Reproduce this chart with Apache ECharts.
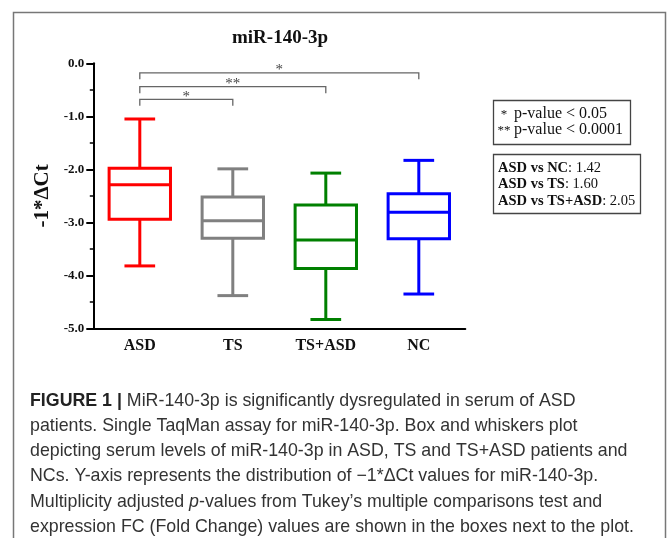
<!DOCTYPE html>
<html>
<head>
<meta charset="utf-8">
<script src="https://cdn.jsdelivr.net/npm/echarts@6/dist/echarts.min.js"></script>
<style>
  html, body { margin: 0; padding: 0; background: #fff; }
  #main { width: 669px; height: 538px; }
</style>
</head>
<body>
<div id="main"></div>
<script>
// 分组与箱线图数值 (-1*ΔCt)
const groups = ['ASD', 'TS', 'TS+ASD', 'NC'];
const whiskerMax = [-1.05, -1.99, -2.07, -1.83];
const q3 = [-1.98, -2.52, -2.67, -2.46];
const median = [-2.29, -2.97, -3.33, -2.81];
const q1 = [-2.94, -3.30, -3.87, -3.31];
const whiskerMin = [-3.82, -4.38, -4.83, -4.35];
const boxColors = ['#ff0000', '#808080', '#008000', '#0000ff'];

// 显著性标记 (ASD vs ...)
const compareFrom = [0, 0, 0];
const compareTo = [3, 2, 1];
const compareLevel = [-0.18, -0.44, -0.68];
const compareStars = ['*', '**', '*'];

// 右侧说明框
const pStars = ['*', '**'];
const pText = ['p-value < 0.05', 'p-value < 0.0001'];
const fcNames = ['ASD vs NC', 'ASD vs TS', 'ASD vs TS+ASD'];
const fcValues = ['1.42', '1.60', '2.05'];

// 图注
const captionLines = [
  '{b|FIGURE 1 |} MiR-140-3p is significantly dysregulated in serum of ASD',
  'patients. Single TaqMan assay for miR-140-3p. Box and whiskers plot',
  'depicting serum levels of miR-140-3p in ASD, TS and TS+ASD patients and',
  'NCs. Y-axis represents the distribution of \u22121*\u0394Ct values for miR-140-3p.',
  'Multiplicity adjusted {i|p}-values from Tukey\u2019s multiple comparisons test and',
  'expression FC (Fold Change) values are shown in the boxes next to the plot.'
];

const serif = '"Liberation Serif", "Times New Roman", serif';
const sans = '"Liberation Sans", Arial, sans-serif';

const boxData = groups.map((g, i) => [i, whiskerMin[i], q1[i], median[i], q3[i], whiskerMax[i]]);
const bracketData = compareFrom.map((f, i) => [f, compareTo[i], compareLevel[i], i]);

const renderBox = (params, api) => {
  const i = api.value(0);
  const x = api.coord([i, 0])[0];
  const w = api.size([1, 0])[0] * 0.66;
  const y = (k) => api.coord([i, api.value(k)])[1];
  const yMin = y(1), yQ1 = y(2), yMed = y(3), yQ3 = y(4), yMax = y(5);
  const style = { stroke: boxColors[i], lineWidth: 3, fill: null };
  const line = (x1, y1, x2, y2) => ({ type: 'line', shape: { x1, y1, x2, y2 }, style });
  return {
    type: 'group',
    children: [
      { type: 'rect', shape: { x: x - w / 2, y: yQ3, width: w, height: yQ1 - yQ3 }, style },
      line(x - w / 2, yMed, x + w / 2, yMed),
      line(x, yQ3, x, yMax),
      line(x, yQ1, x, yMin),
      line(x - w / 4, yMax, x + w / 4, yMax),
      line(x - w / 4, yMin, x + w / 4, yMin)
    ]
  };
};

const renderBracket = (params, api) => {
  const a = api.coord([api.value(0), api.value(2)]);
  const b = api.coord([api.value(1), api.value(2)]);
  const k = api.value(3);
  const drop = 6.5;
  return {
    type: 'group',
    children: [
      {
        type: 'polyline',
        shape: { points: [[a[0], a[1] + drop], [a[0], a[1]], [b[0], b[1]], [b[0], b[1] + drop]] },
        style: { stroke: '#666', lineWidth: 1.3, fill: null }
      },
      {
        type: 'text',
        x: (a[0] + b[0]) / 2,
        y: a[1] + 5,
        style: {
          text: compareStars[k], fill: '#444', font: '15px ' + serif,
          align: 'center', verticalAlign: 'bottom'
        }
      }
    ]
  };
};

const graphics = [
  // 外框
  { type: 'rect', shape: { x: 13.5, y: 12.5, width: 652, height: 600 },
    style: { stroke: '#777', lineWidth: 1.5, fill: null }, silent: true },
  // p-value 框
  { type: 'rect', shape: { x: 493.5, y: 100.5, width: 137, height: 44 },
    style: { stroke: '#444', lineWidth: 1.3, fill: null } },
  // FC 框
  { type: 'rect', shape: { x: 493.5, y: 154.5, width: 147, height: 59 },
    style: { stroke: '#444', lineWidth: 1.3, fill: null } }
];
pStars.forEach((s, i) => {
  graphics.push({ type: 'text', x: 504, y: 115 + i * 16,
    style: { text: s, font: '13px ' + serif, fill: '#111', align: 'center', verticalAlign: 'middle' } });
  graphics.push({ type: 'text', x: 514, y: 114 + i * 16,
    style: { text: pText[i], font: '16px ' + serif, fill: '#111', verticalAlign: 'middle' } });
});
fcNames.forEach((n, i) => {
  graphics.push({ type: 'text', x: 498, y: 168 + i * 16.5,
    style: {
      text: '{b|' + n + '}{r|: ' + fcValues[i] + '}', verticalAlign: 'middle',
      rich: {
        b: { font: 'bold 14.5px ' + serif, fill: '#111' },
        r: { font: '14.5px ' + serif, fill: '#111' }
      }
    } });
});
captionLines.forEach((t, i) => {
  graphics.push({ type: 'text', x: 30, y: 401 + i * 25.2,
    style: {
      text: t, verticalAlign: 'middle', font: '17.8px ' + sans, fill: '#333',
      rich: {
        b: { font: 'bold 17.8px ' + sans, fill: '#222' },
        i: { font: 'italic 17.8px ' + sans, fill: '#333' }
      }
    } });
});

const chart = echarts.init(document.getElementById('main'));
chart.setOption({
  animation: false,
  backgroundColor: '#fff',
  title: {
    text: 'miR-140-3p',
    left: 275,
    top: 24,
    textAlign: 'center',
    textStyle: { fontFamily: serif, fontWeight: 'bold', fontSize: 19, color: '#111' }
  },
  grid: { left: 93.3, top: 63.3, width: 372, height: 265.2 },
  xAxis: {
    type: 'category',
    data: groups,
    axisLine: { onZero: false, lineStyle: { color: '#000', width: 2 } },
    axisTick: { show: false },
    axisLabel: { margin: 9, fontFamily: serif, fontWeight: 'bold', fontSize: 16, color: '#111' },
    splitLine: { show: false }
  },
  yAxis: {
    type: 'value',
    min: -5,
    max: 0,
    interval: 1,
    name: '-1*\u0394Ct',
    nameLocation: 'middle',
    nameRotate: 90,
    nameGap: 31,
    nameTextStyle: { fontFamily: serif, fontWeight: 'bold', fontSize: 21, color: '#111' },
    axisLine: { show: true, lineStyle: { color: '#000', width: 2 } },
    axisTick: { show: true, length: 7, lineStyle: { color: '#000', width: 2 } },
    minorTick: { show: true, splitNumber: 2, length: 3.5, lineStyle: { color: '#000', width: 1.5 } },
    axisLabel: {
      margin: 9, fontFamily: serif, fontWeight: 'bold', fontSize: 13, color: '#111',
      formatter: (v) => v.toFixed(1)
    },
    splitLine: { show: false }
  },
  series: [
    {
      type: 'custom',
      renderItem: renderBox,
      encode: { x: 0, y: [1, 2, 3, 4, 5] },
      data: boxData,
      z: 3
    },
    {
      type: 'custom',
      renderItem: renderBracket,
      encode: { y: 2 },
      data: bracketData,
      clip: false,
      z: 2
    }
  ],
  graphic: graphics
});
</script>
</body>
</html>
